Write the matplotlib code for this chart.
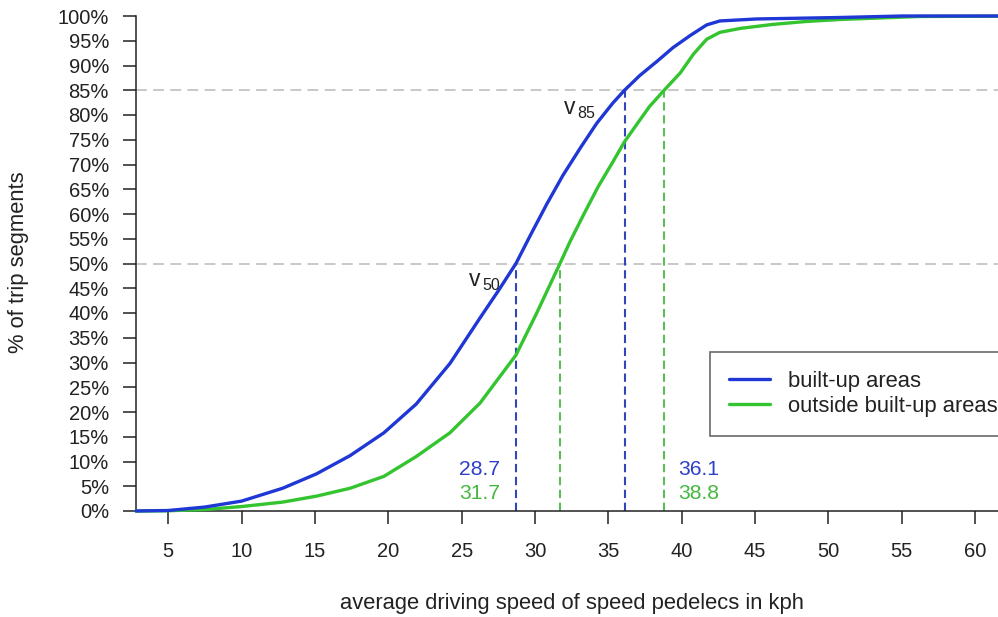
import matplotlib
matplotlib.use("Agg")
import matplotlib.pyplot as plt

plt.rcParams['font.family'] = ['Liberation Sans', 'DejaVu Sans']

# ---- data ----
blue_x = [2.8, 5, 7.5, 10, 12.8, 15.1, 17.4, 19.7, 21.9, 24.2, 26.25, 27.5, 28.7,
          29.7, 30.8, 31.9, 33.1, 34.2, 35.3, 36.1, 37.15, 38.3, 39.4, 40.6, 41.7,
          42.6, 45.1, 50.8, 55, 65]
blue_y = [0, 0.1, 0.8, 2.0, 4.6, 7.5, 11.2, 15.8, 21.6, 29.8, 39.0, 44.5, 50,
          55.8, 62.0, 67.8, 73.4, 78.3, 82.4, 85, 88.0, 90.8, 93.6, 96.1, 98.2,
          99.0, 99.4, 99.7, 100, 100]
green_x = [2.8, 5, 7.5, 10, 12.8, 15.1, 17.4, 19.7, 21.9, 24.2, 26.25, 28.7, 30.1,
           31.7, 32.4, 33.3, 34.3, 35.3, 36.1, 37.15, 37.8, 38.8, 39.9, 40.8, 41.7,
           42.6, 44.0, 46.2, 48.5, 50.8, 56.2, 65]
green_y = [0, 0.05, 0.3, 0.9, 1.8, 3.0, 4.6, 7.0, 11.0, 15.8, 21.8, 31.5, 39.9,
           50, 54.5, 59.8, 65.5, 70.5, 74.6, 79.0, 81.7, 85, 88.5, 92.3, 95.3,
           96.7, 97.5, 98.3, 98.9, 99.3, 99.9, 100]
series_labels = ["built-up areas", "outside built-up areas"]
v50 = [28.7, 31.7]
v85 = [36.1, 38.8]
x_ticks = [5, 10, 15, 20, 25, 30, 35, 40, 45, 50, 55, 60]
y_ticks = list(range(0, 101, 5))
y_ticklabels = [f"{v}%" for v in y_ticks]

BLUE = '#1f37d4'
GREEN = '#33c42f'
BLUE_T = '#2f40c8'
GREEN_T = '#45b83f'
BLUE_D = '#3346b8'
GREEN_D = '#5cbd5a'
INK = '#222222'

W, H = 998, 617
fig = plt.figure(figsize=(W / 100, H / 100), dpi=100)
x0, x1 = 2.8, 65
pxu = 14.67
ax = fig.add_axes([136 / W, (H - 511) / H, (x1 - x0) * pxu / W, (511 - 16) / H])
ax.set_xlim(x0, x1)
ax.set_ylim(0, 100)

for s in ['top', 'right']:
    ax.spines[s].set_visible(False)
for s in ['left', 'bottom']:
    ax.spines[s].set_linewidth(1.1)
    ax.spines[s].set_color(INK)

# reference lines
for yv in [50, 85]:
    ax.axhline(yv, color='#c4c4c4', lw=1.3, dashes=(6, 3.5), zorder=1)
ax.plot([v50[0], v50[0]], [0, 50], color=BLUE_D, lw=1.5, dashes=(4, 2.2), zorder=2)
ax.plot([v85[0], v85[0]], [0, 85], color=BLUE_D, lw=1.5, dashes=(4, 2.2), zorder=2)
ax.plot([v50[1], v50[1]], [0, 50], color=GREEN_D, lw=1.5, dashes=(4, 2.2), zorder=2)
ax.plot([v85[1], v85[1]], [0, 85], color=GREEN_D, lw=1.5, dashes=(4, 2.2), zorder=2)

ax.plot(blue_x, blue_y, color=BLUE, lw=2.4, label=series_labels[0], zorder=4,
        clip_on=False, solid_joinstyle='round', solid_capstyle='round')
ax.plot(green_x, green_y, color=GREEN, lw=2.4, label=series_labels[1], zorder=3,
        clip_on=False, solid_joinstyle='round', solid_capstyle='round')

ax.set_xticks(x_ticks)
ax.set_xticklabels([str(v) for v in x_ticks])
ax.set_yticks(y_ticks)
ax.set_yticklabels(y_ticklabels)
ax.tick_params(axis='both', direction='out', length=9.5, width=1.1, color=INK,
               labelsize=14.5, labelcolor=INK)
ax.tick_params(axis='y', pad=10)
ax.tick_params(axis='x', pad=13)

# annotations
fs = 15.2
fig.text(500 / W, 1 - 469.5 / H, f"{v50[0]}", color=BLUE_T, fontsize=fs, ha='right', va='center')
fig.text(500 / W, 1 - 493.5 / H, f"{v50[1]}", color=GREEN_T, fontsize=fs, ha='right', va='center')
fig.text(678 / W, 1 - 469.5 / H, f"{v85[0]}", color=BLUE_T, fontsize=fs, ha='left', va='center')
fig.text(678 / W, 1 - 493.5 / H, f"{v85[1]}", color=GREEN_T, fontsize=fs, ha='left', va='center')

fig.text(469 / W, 1 - 279 / H, "v", color=INK, fontsize=16.5, ha='left', va='center')
fig.text(482 / W, 1 - 286 / H, "50", color=INK, fontsize=11.5, ha='left', va='center')
fig.text(564 / W, 1 - 107 / H, "v", color=INK, fontsize=16.5, ha='left', va='center')
fig.text(577 / W, 1 - 113 / H, "85", color=INK, fontsize=11.5, ha='left', va='center')

fig.text(572 / W, 1 - 604 / H, "average driving speed of speed pedelecs in kph",
         fontsize=15.8, ha='center', va='center', color=INK)
fig.text(19 / W, 1 - 262 / H, "% of trip segments", fontsize=15.8, ha='center',
         va='center', rotation=90, color=INK)

leg = ax.legend(loc='upper left', bbox_to_anchor=(710 / W, 1 - 352 / H),
                bbox_transform=fig.transFigure, fontsize=15.8, frameon=True,
                fancybox=False, handlelength=1.9, handletextpad=0.8,
                labelspacing=0.2, borderpad=0.85, borderaxespad=0)
leg.get_frame().set_edgecolor('#444444')
leg.get_frame().set_linewidth(1.2)
for t in leg.get_texts():
    t.set_color(INK)

fig.savefig('out.png', dpi=100)
